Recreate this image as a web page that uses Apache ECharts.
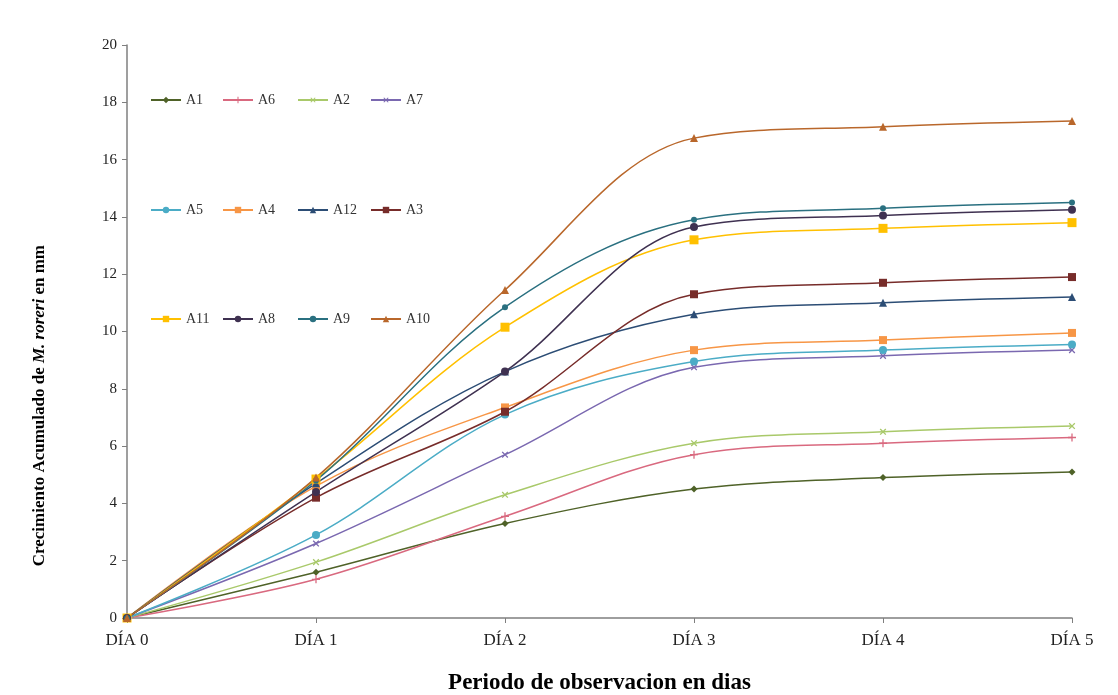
<!DOCTYPE html>
<html><head><meta charset="utf-8">
<script src="https://cdn.jsdelivr.net/npm/echarts@6/dist/echarts.min.js"></script>
<style>html,body{margin:0;padding:0;background:#fff}#c{width:1118px;height:695px}</style>
</head><body><div id="c"></div>
<script>
const categories = ['DÍA 0','DÍA 1','DÍA 2','DÍA 3','DÍA 4','DÍA 5'];
const yTicks = [0,2,4,6,8,10,12,14,16,18,20];
const seriesNames = ['A1','A6','A2','A7','A5','A4','A12','A3','A11','A8','A9','A10'];
const A1  = [0,1.6,3.3,4.5,4.9,5.1];
const A6  = [0,1.35,3.55,5.7,6.1,6.3];
const A2  = [0,1.95,4.3,6.1,6.5,6.7];
const A7  = [0,2.6,5.7,8.75,9.15,9.35];
const A5  = [0,2.9,7.1,8.95,9.35,9.55];
const A4  = [0,4.6,7.35,9.35,9.7,9.95];
const A12 = [0,4.7,8.6,10.6,11.0,11.2];
const A3  = [0,4.2,7.2,11.3,11.7,11.9];
const A11 = [0,4.85,10.15,13.2,13.6,13.8];
const A8  = [0,4.4,8.6,13.65,14.05,14.25];
const A9  = [0,4.8,10.85,13.9,14.3,14.5];
const A10 = [0,4.9,11.45,16.75,17.15,17.35];
const values = {A1,A6,A2,A7,A5,A4,A12,A3,A11,A8,A9,A10};

const PLUS = 'path://M4.2,0L5.8,0L5.8,4.2L10,4.2L10,5.8L5.8,5.8L5.8,10L4.2,10L4.2,5.8L0,5.8L0,4.2L4.2,4.2Z';
const styles = {
  A1:  {color:'#4f6228', symbol:'diamond', size:7},
  A6:  {color:'#d9697f', symbol:PLUS, size:8},
  A2:  {color:'#a9c96a', symbol:PLUS, size:8, rotate:45},
  A7:  {color:'#7a68b0', symbol:PLUS, size:8, rotate:45},
  A5:  {color:'#4bacc6', symbol:'circle', size:8},
  A4:  {color:'#f79646', symbol:'rect', size:8},
  A12: {color:'#2c4d75', symbol:'triangle', size:8},
  A3:  {color:'#772c2a', symbol:'rect', size:8},
  A11: {color:'#ffc000', symbol:'rect', size:9},
  A8:  {color:'#3f3151', symbol:'circle', size:8},
  A9:  {color:'#2a7080', symbol:'circle', size:6},
  A10: {color:'#b9672b', symbol:'triangle', size:8}
};
const font = '"Liberation Serif","Times New Roman",serif';

const series = seriesNames.map(n => ({
  name:n, type:'line', data:values[n], smooth:0.35,
  symbol:styles[n].symbol, symbolSize:styles[n].size, symbolRotate:styles[n].rotate||0,
  showAllSymbol:true,
  lineStyle:{color:styles[n].color, width:1.5},
  itemStyle:{color:styles[n].color},
  emphasis:{disabled:true}, animation:false
}));

const legendRowsTop = [93, 203, 312];
const legendColsLeft = [150, 222, 297, 370];
const legends = seriesNames.map((n,i) => ({
  data:[n], left:legendColsLeft[i%4], top:legendRowsTop[Math.floor(i/4)],
  itemWidth:30, itemHeight:8, itemGap:4, padding:0,
  textStyle:{fontFamily:font, fontSize:14, color:'#333'}
}));

const chart = echarts.init(document.getElementById('c'), null, {renderer:'canvas'});
chart.setOption({
  backgroundColor:'#fff',
  animation:false,
  grid:{left:127, right:46, top:45, bottom:77, containLabel:false, outerBoundsMode:'none'},
  legend:legends,
  xAxis:{type:'category', data:categories, boundaryGap:false,
    axisLine:{lineStyle:{color:'#7f7f7f', width:1.5}},
    axisTick:{show:true, alignWithLabel:true, length:5, lineStyle:{color:'#7f7f7f'}},
    axisLabel:{fontFamily:font, fontSize:17, color:'#222', margin:14},
    name:'Periodo de observacion en dias', nameLocation:'middle', nameGap:54,
    nameTextStyle:{fontFamily:font, fontSize:23, fontWeight:'bold', color:'#000'}
  },
  yAxis:{type:'value', min:0, max:20, interval:2,
    axisLine:{show:true, lineStyle:{color:'#7f7f7f', width:1.5}},
    axisTick:{show:true, length:5, lineStyle:{color:'#7f7f7f'}},
    splitLine:{show:false},
    axisLabel:{fontFamily:font, fontSize:15, color:'#222', margin:10,
      formatter: v => yTicks.includes(v) ? String(v) : ''}
  },
  graphic:[{
    type:'text', left:31, top:245, rotation:Math.PI/2, z:10,
    style:{
      text:'{b|Crecimiento Acumulado de }{i|M. roreri}{b| en mm}',
      rich:{
        b:{fontFamily:font, fontSize:17, fontWeight:'bold', fill:'#000'},
        i:{fontFamily:font, fontSize:17, fontWeight:'bold', fontStyle:'italic', fill:'#000'}
      }
    }
  }],
  series:series
});
</script></body></html>
